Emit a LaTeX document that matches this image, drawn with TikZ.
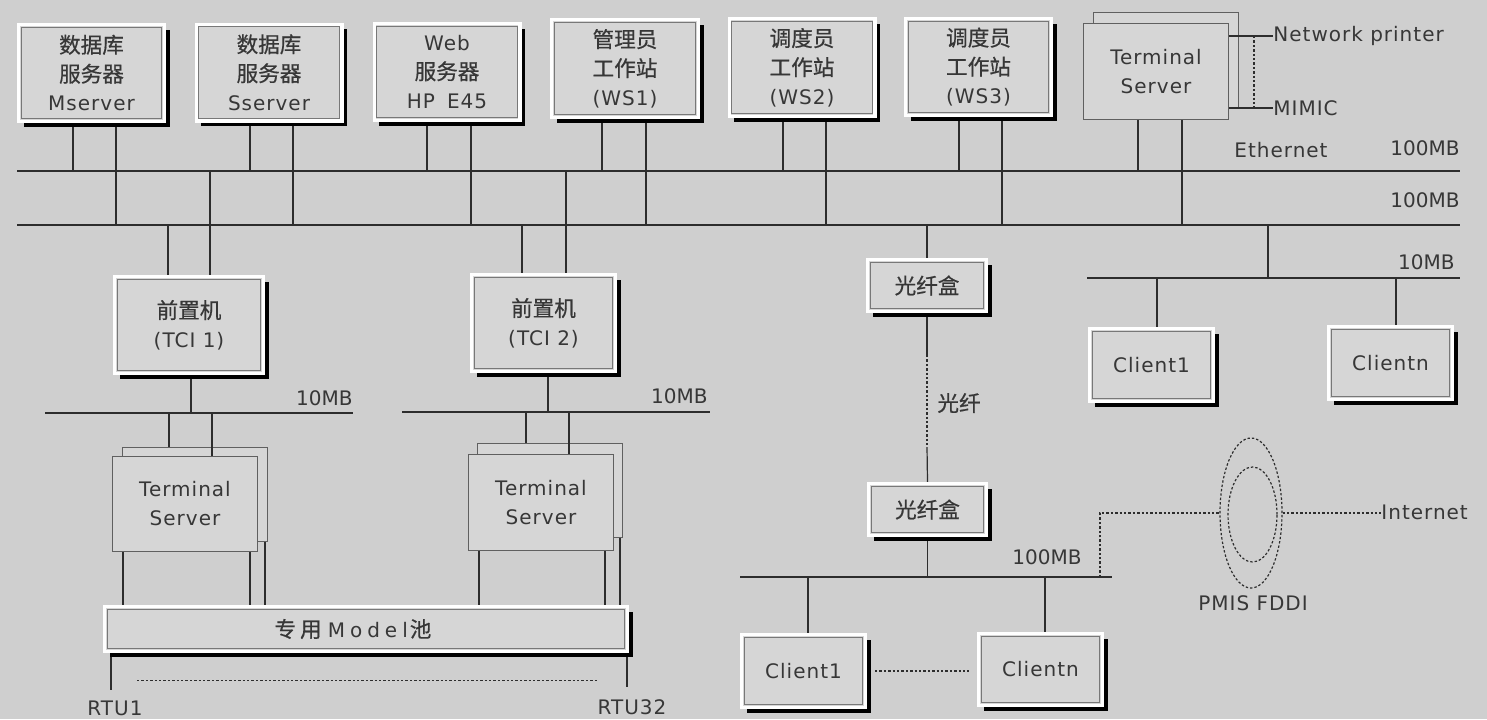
\documentclass[tikz,border=0pt]{standalone}
\usepackage{fontspec}
\setmainfont{DejaVu Sans}[LetterSpace=5]
\newfontfamily\cjk{Noto Sans CJK SC}[Scale=1.08, FakeBold=0.6]
\newfontfamily\numfont{DejaVu Sans}
\usetikzlibrary{shadows,calc,shapes.geometric}
\pgfdeclarelayer{back}
\pgfdeclarelayer{wires}
\pgfsetlayers{back,wires,main}
\definecolor{bgc}{RGB}{207,207,207}
\definecolor{boxc}{RGB}{214,214,214}
\definecolor{inkc}{RGB}{55,55,55}
\definecolor{edgec}{RGB}{120,120,120}
\definecolor{linec}{RGB}{45,45,45}
\tikzset{
  sz/.style 2 args={minimum width={#1*0.5pt-1.6pt}, minimum height={#2*0.5pt-1.6pt}},
  tsz/.style 2 args={minimum width={#1*0.5pt-0.7pt}, minimum height={#2*0.5pt-0.7pt}},
  txt/.style={text=inkc, align=center, font=\fontsize{10}{14.5}\selectfont},
  box/.style={txt, draw=white, line width=1.6pt, fill=boxc, inner sep=0pt,
    drop shadow={shadow xshift=2.6pt, shadow yshift=-2.6pt, fill=black, opacity=1},
    path picture={\draw[edgec, line width=0.6pt] ([shift={(1.3pt,1.3pt)}]path picture bounding box.south west) rectangle ([shift={(-1.3pt,-1.3pt)}]path picture bounding box.north east);}},
  tsbox/.style={txt, draw=edgec!80!black, line width=0.7pt, fill=boxc, inner sep=0pt},
  wire/.style={draw=linec, line width=0.6pt},
  bus/.style={draw=linec, line width=1pt},
  dotline/.style={draw=linec, line width=0.6pt, dash pattern=on 1.2pt off 1pt},
  lbl/.style={text=inkc, inner sep=0pt, font=\fontsize{10}{12}\selectfont},
  numlbl/.style={text=inkc, inner sep=0pt, font=\numfont\fontsize{10}{12}\selectfont},
  ring/.style={draw=linec, line width=0.6pt, dash pattern=on 1.2pt off 1pt, ellipse, inner sep=0pt},
}
\begin{document}
\begin{tikzpicture}[x=0.5pt,y=-0.5pt]
\begin{pgfonlayer}{back}
\fill[bgc] (0,0) rectangle (1487,719);
\end{pgfonlayer}
\useasboundingbox (0,0) rectangle (1487,719);

% bus coordinates
\coordinate (b1w) at (17,171);   \coordinate (b1e) at (1460,171);
\coordinate (b2w) at (17,225);   \coordinate (b2e) at (1460,225);
\coordinate (rbw) at (1087,278); \coordinate (rbe) at (1460,278);
\coordinate (lb1w) at (45,413);  \coordinate (lb1e) at (353,413);
\coordinate (lb2w) at (402,412); \coordinate (lb2e) at (710,412);
\coordinate (bbw) at (740,577);  \coordinate (bbe) at (1112,577);

% top row
\node[box,sz={149}{100}] (ms) at (91.5,73) {{\cjk 数据库}\\{\cjk 服务器}\\Mserver};
\node[box,sz={149}{100}] (ss) at (269,72.5) {{\cjk 数据库}\\{\cjk 服务器}\\Sserver};
\node[box,sz={149}{100}] (web) at (447,72) {Web\\{\cjk 服务器}\\HP\hspace{6pt}E45};
\node[box,sz={150}{101}] (ws1) at (625,68.5) {{\cjk 管理员}\\{\cjk 工作站}\\(WS1)};
\node[box,sz={149}{101}] (ws2) at (802,67.5) {{\cjk 调度员}\\{\cjk 工作站}\\(WS2)};
\node[box,sz={149}{100}] (ws3) at (978.5,67) {{\cjk 调度员}\\{\cjk 工作站}\\(WS3)};
\node[tsbox,tsz={146}{96}] (tstb) at (1166,60) {};
\node[tsbox,tsz={146}{97}] (tstf) at (1156,71.5) {Terminal\\Server};

\node[lbl,anchor=west] (np) at (1273,36) {Network printer};
\node[lbl,anchor=west] (mimic) at (1273,108) {MIMIC};
\node[lbl] (eth) at (1281,150) {Ethernet};
\node[numlbl,anchor=east] (l100a) at (1460,148) {100MB};
\node[numlbl,anchor=east] (l100b) at (1460,200) {100MB};

% middle row
\node[box,sz={152}{100}] (tci1) at (189,325) {{\cjk 前置机}\\(TCI 1)};
\node[box,sz={147}{100}] (tci2) at (543.5,323) {{\cjk 前置机}\\(TCI 2)};
\node[box,sz={122}{55}] (f1) at (927,285.5) {{\cjk 光纤盒}};
\node[numlbl,anchor=east] (l10r) at (1455,262) {10MB};
\node[box,sz={127}{76}] (rc1) at (1151.5,365) {Client1};
\node[box,sz={127}{76}] (rcn) at (1390.5,363) {Clientn};
\node[numlbl,anchor=east] (l10a) at (353,398) {10MB};
\node[numlbl,anchor=east] (l10b) at (708,396) {10MB};

% terminal servers
\node[tsbox,tsz={146}{95}] (ts1b) at (195,494.5) {};
\node[tsbox,tsz={146}{96}] (ts1f) at (185,504) {Terminal\\Server};
\node[tsbox,tsz={146}{95}] (ts2b) at (550,490.5) {};
\node[tsbox,tsz={146}{97}] (ts2f) at (541,502.5) {Terminal\\Server};

\node[box,sz={526}{48}] (pool) at (366,629) {{\cjk 专\hspace{2pt}用}\hspace{3pt}{\addfontfeature{LetterSpace=25}Model}\hspace{1pt}{\cjk 池}\hspace*{13pt}};
\coordinate (rt1) at (111,690);
\coordinate (rt32) at (627,687);
\coordinate (dl) at (137,680.5);
\coordinate (dr) at (597,680.5);
\node[lbl] (rtu1) at (115,708) {RTU1};
\node[lbl] (rtu32) at (632,707) {RTU32};

% fibre
\coordinate (fa) at (927,355);
\coordinate (fb) at (927,447);
\node[lbl,anchor=west] (fl) at (937,403) {\cjk 光纤};
\node[box,sz={121}{55}] (f2) at (927.5,509.5) {{\cjk 光纤盒}};
\node[numlbl,anchor=east] (l100c) at (1082,557) {100MB};
\node[box,sz={127}{76}] (bc1) at (803.5,671) {Client1};
\node[box,sz={127}{75}] (bcn) at (1040.5,669.5) {Clientn};

% FDDI
\node[ring, minimum width=31pt, minimum height=75pt] (fo) at (1251,513) {};
\node[ring, minimum width=24.5pt, minimum height=47.5pt] (fi) at (1252.5,514.5) {};
\node[lbl] (pmis) at (1253,603) {PMIS FDDI};
\node[lbl,anchor=west] (inet) at (1381,512) {Internet};

\begin{pgfonlayer}{wires}
\draw[bus] (b1w) -- (b1e);
\draw[bus] (b2w) -- (b2e);
\draw[bus] (rbw) -- (rbe);
\draw[wire] (lb1w) -- (lb1e);
\draw[wire] (lb2w) -- (lb2e);
\draw[bus] (bbw) -- (bbe);
\foreach \n/\a/\b in {ms/73/116, ss/250/293, web/427/471, ws1/602/646, ws2/783/826, ws3/959/1002, tstf/1138/1182} {
  \draw[wire] (\a,0 |- \n.south) -- (\a,0 |- b1w);
  \draw[wire] (\b,0 |- \n.south) -- (\b,0 |- b2w);
}
\draw[wire] (210,0 |- b1w) -- (210,0 |- tci1.north);
\draw[wire] (168,0 |- b2w) -- (168,0 |- tci1.north);
\draw[wire] (566,0 |- b1w) -- (566,0 |- tci2.north);
\draw[wire] (522,0 |- b2w) -- (522,0 |- tci2.north);
\draw[wire] (f1.north |- b2w) -- (f1.north);
\draw[wire] (1268,0 |- b2w) -- (1268,0 |- rbw);
\draw[wire] (1157,0 |- rbw) -- (1157,0 |- rc1.north);
\draw[wire] (1396,0 |- rbw) -- (1396,0 |- rcn.north);
\draw[wire] (191,0 |- tci1.south) -- (191,0 |- lb1w);
\draw[wire] (548,0 |- tci2.south) -- (548,0 |- lb2w);
\draw[wire] (169,0 |- lb1w) -- (169,0 |- ts1b.north);
\draw[wire] (526,0 |- lb2w) -- (526,0 |- ts2b.north);
\draw[wire] (123,0 |- ts1f.south) -- (123,0 |- pool.north);
\draw[wire] (250,0 |- ts1f.south) -- (250,0 |- pool.north);
\draw[wire] (265,0 |- ts1b.south) -- (265,0 |- pool.north);
\draw[wire] (479,0 |- ts2f.south) -- (479,0 |- pool.north);
\draw[wire] (605,0 |- ts2f.south) -- (605,0 |- pool.north);
\draw[wire] (620,0 |- ts2b.south) -- (620,0 |- pool.north);
\draw[wire] (111,0 |- pool.south) -- (rt1);
\draw[wire] (627,0 |- pool.south) -- (rt32);
\draw[wire] (f1.south) -- (fa);
\draw[wire] (fb) -- (f2.north);
\draw[wire] (f2.south) -- (f2.south |- bbw);
\draw[wire] (808,0 |- bbw) -- (808,0 |- bc1.north);
\draw[wire] (1045,0 |- bbw) -- (1045,0 |- bcn.north);
\end{pgfonlayer}

% connectors over the rear terminal-server boxes
\draw[wire] (212,0 |- lb1w) -- (212,0 |- ts1f.north);
\draw[wire] (569,0 |- lb2w) -- (569,0 |- ts2f.north);
\draw[wire] (tstf.east |- np.west) -- (np.west);
\draw[wire] (tstf.east |- mimic.west) -- (mimic.west);
\draw[dotline] ($(tstf.east |- np.west)+(25,0)$) -- ($(tstf.east |- mimic.west)+(25,0)$);
\draw[dotline] (fa) -- (fb);
\draw[dotline] (dl) -- (dr);
\draw[dotline] ($(bc1.east)+(8,0)$) -- ($(bc1.east -| bcn.west)+(-8,0)$);
\draw[dotline] (1100,0 |- bbw) |- (fo.west);
\draw[dotline] (fo.east) -- (fo.east -| inet.west);
\end{tikzpicture}
\end{document}
